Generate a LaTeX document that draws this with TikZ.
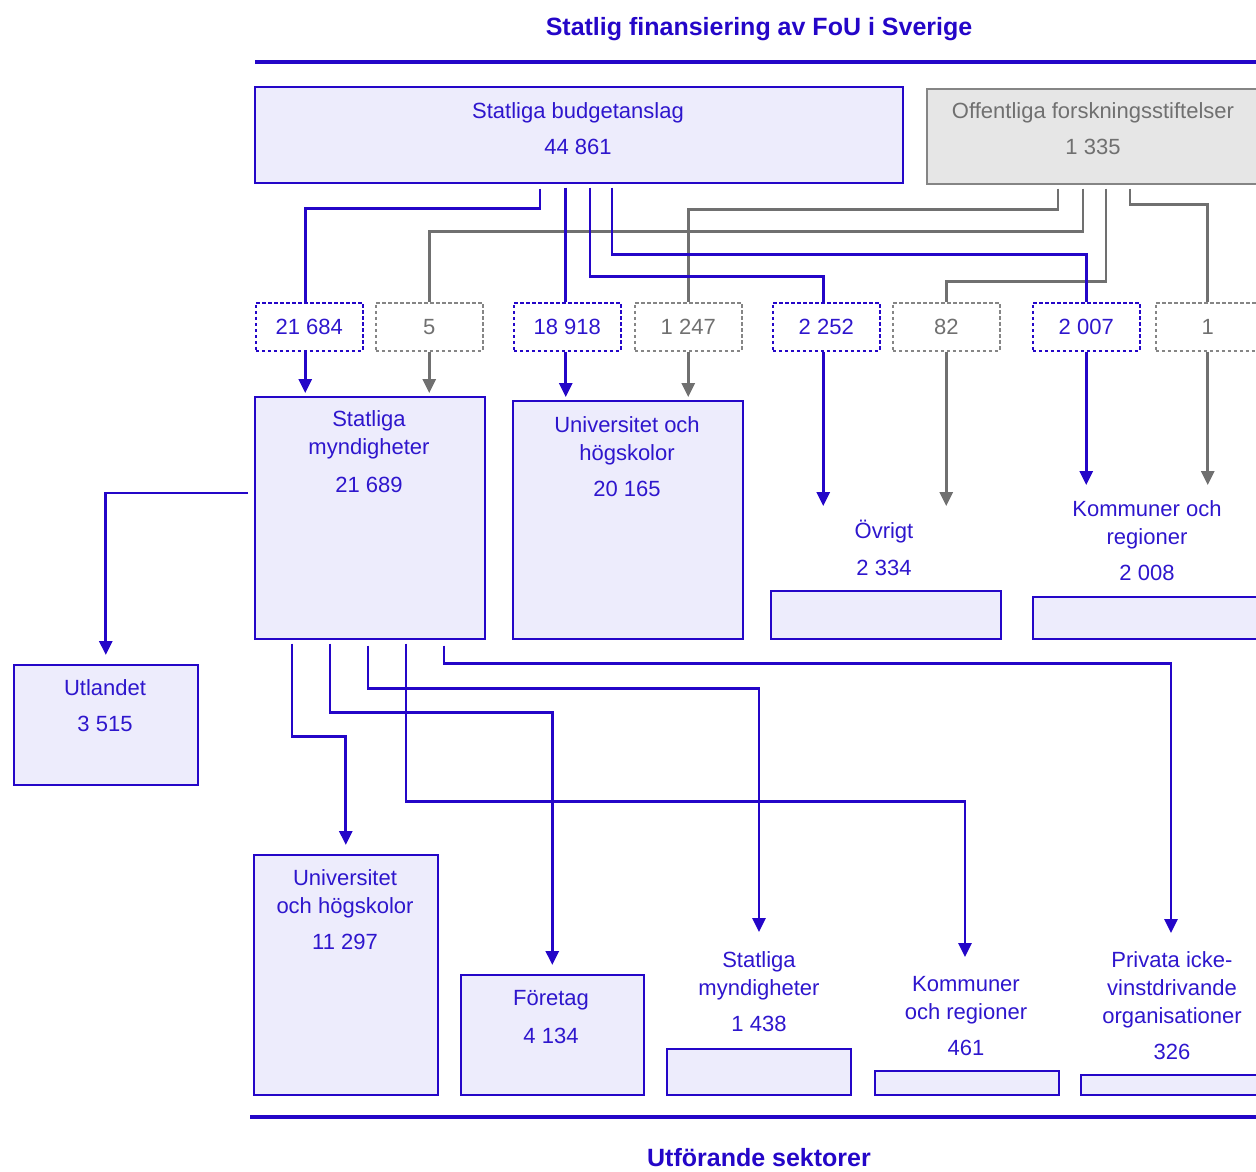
\documentclass[tikz,border=0pt]{standalone}
\usepackage{fontspec}
\setmainfont{Liberation Sans}
\usetikzlibrary{arrows.meta,calc}
\definecolor{blu}{RGB}{36,6,200}
\definecolor{blutxt}{RGB}{46,22,205}
\definecolor{lav}{RGB}{237,236,252}
\definecolor{gfill}{RGB}{230,230,230}
\definecolor{gline}{RGB}{112,112,112}
\definecolor{gtxt}{RGB}{112,112,112}
\newcommand\lbfont{\fontsize{22}{26}\selectfont}
\newcommand\ttlfont{\fontsize{25}{30}\selectfont\bfseries}
\begin{document}
\begin{tikzpicture}[x=1pt,y=-1pt,
 bbox/.style={draw=blu, fill=lav, line width=1.6pt, anchor=north west, inner sep=0pt},
 gbox/.style={draw=gline!85, fill=gfill, line width=1.6pt, anchor=north west, inner sep=0pt},
 dbox/.style={draw=blu, dash pattern=on 3.5pt off 2.5pt, line width=1.5pt, anchor=north west, minimum width=107pt, minimum height=48pt, inner sep=0pt, text=blutxt, font=\lbfont, text height=15.75pt, text depth=0pt},
 dgbox/.style={dbox, draw=gline!85, text=gtxt},
 txt/.style={inner sep=0pt, text height=15.75pt, text depth=0pt, font=\lbfont, text=blutxt},
 gtx/.style={txt, text=gtxt},
 ttl/.style={inner sep=0pt, text height=18pt, text depth=0pt, font=\ttlfont, text=blu},
 bl/.style={draw=blu, line width=2.9pt},
 gl/.style={draw=gline, line width=2.9pt},
 bla/.style={bl, -{Triangle[length=14pt,width=13pt]}},
 gla/.style={gl, -{Triangle[length=14pt,width=13pt]}},
 rule/.style={draw=blu, line width=3.2pt},
]
\useasboundingbox (0,0) rectangle (1256,1171);
\clip (0,0) rectangle (1256,1171);

% titles and rules
\node[ttl] (title) at (759,26) {Statlig finansiering av FoU i Sverige};
\node[ttl] (bottitle) at (759,1157) {Utförande sektorer};
\coordinate (rtl) at (255,62);
\coordinate (rtr) at (1262,62);
\draw[rule] (rtl) -- (rtr);
\coordinate (rbl) at (250,1117);
\coordinate (rbr) at (1262,1117);
\draw[rule, line width=3.8pt] (rbl) -- (rbr);

% source boxes
\node[bbox, minimum width=648pt, minimum height=96pt] (budget) at (254,86) {};
\node[gbox, minimum width=340pt, minimum height=95pt] (offf) at (926,88) {};
\node[txt] (budget1) at (578,111) {Statliga budgetanslag};
\node[txt] (budget2) at (578,147) {44 861};
\node[gtx] (offf1) at (1093,111) {Offentliga forskningsstiftelser};
\node[gtx] (offf2) at (1093,147) {1 335};

% dashed amount boxes
\node[dbox] (d1) at (255,302) {21 684};
\node[dgbox] (d2) at (375,302) {5};
\node[dbox] (d3) at (513,302) {18 918};
\node[dgbox] (d4) at (634,302) {1 247};
\node[dbox] (d5) at (772,302) {2 252};
\node[dgbox] (d6) at (892,302) {82};
\node[dbox] (d7) at (1032,302) {2 007};
\node[dgbox, minimum width=104pt] (d8) at (1155,302) {1};

% middle boxes
\node[bbox, minimum width=230pt, minimum height=242pt] (sm) at (254,396) {};
\node[bbox, minimum width=230pt, minimum height=238pt] (uh) at (512,400) {};
\node[bbox, minimum width=230pt, minimum height=48pt] (ov) at (770,590) {};
\node[bbox, minimum width=234pt, minimum height=42pt] (kr) at (1032,596) {};
\node[bbox, minimum width=184pt, minimum height=120pt] (ut) at (13,664) {};

\node[txt] (sm1) at (369,419) {Statliga};
\node[txt] (sm2l) at (369,447) {myndigheter};
\node[txt] (sm3) at (369,485) {21 689};
\node[txt] (uh1) at (627,425) {Universitet och};
\node[txt] (uh2l) at (627,453) {högskolor};
\node[txt] (uh3) at (627,489) {20 165};
\node[txt] (ov1) at (884,531) {Övrigt};
\node[txt] (ov2) at (884,568) {2 334};
\node[txt] (kr1) at (1147,509) {Kommuner och};
\node[txt] (kr2l) at (1147,537) {regioner};
\node[txt] (kr3) at (1147,573) {2 008};
\node[txt] (ut1) at (105,688) {Utlandet};
\node[txt] (ut2) at (105,724) {3 515};

% bottom boxes
\node[bbox, minimum width=184pt, minimum height=240pt] (uhb) at (253,854) {};
\node[bbox, minimum width=183pt, minimum height=120pt] (fo) at (460,974) {};
\node[bbox, minimum width=184pt, minimum height=46pt] (smb) at (666,1048) {};
\node[bbox, minimum width=184pt, minimum height=24pt] (krb) at (874,1070) {};
\node[bbox, minimum width=186pt, minimum height=20pt] (pr) at (1080,1074) {};

\node[txt] (uhb1) at (345,878) {Universitet};
\node[txt] (uhb2) at (345,906) {och högskolor};
\node[txt] (uhb3) at (345,942) {11 297};
\node[txt] (fo1) at (551,998) {Företag};
\node[txt] (fo2) at (551,1036) {4 134};
\node[txt] (smb1) at (759,960) {Statliga};
\node[txt] (smb2) at (759,988) {myndigheter};
\node[txt] (smb3) at (759,1024) {1 438};
\node[txt] (krb1) at (966,984) {Kommuner};
\node[txt] (krb2) at (966,1012) {och regioner};
\node[txt] (krb3) at (966,1048) {461};
\node[txt] (pr1) at (1172,960) {Privata icke-};
\node[txt] (pr2) at (1172,988) {vinstdrivande};
\node[txt] (pr3) at (1172,1016) {organisationer};
\node[txt] (pr4) at (1172,1052) {326};

% free-end coordinates
\coordinate (ovtop) at (880,506);
\coordinate (krtop) at (1147,485);
\coordinate (smbin) at (759,932);
\coordinate (krbin) at (965,957);
\coordinate (prin) at (1171,933);

% gray connectors from Offentliga forskningsstiftelser
\draw[gl] ($(offf.south west)+(132,4)$) -- ++(0,21) -| (d4.north);
\draw[gl] ($(offf.south west)+(157,4)$) -- ++(0,43) -| (d2.north);
\draw[gl] ($(offf.south west)+(180,4)$) -- ++(0,93) -| (d6.north);
\draw[gl] ($(offf.south west)+(204,4)$) -- ++(0,16) -| (d8.north);

% blue connectors from Statliga budgetanslag
\draw[bl] ($(budget.south west)+(286,5)$) -- ++(0,20) -| ([xshift=-4pt]d1.north);
\draw[bl] ([xshift=-1.5pt,yshift=-4pt]d3.north |- budget.south) -- ([xshift=-1.5pt]d3.north);
\draw[bl] ($(budget.south west)+(336,4)$) -- ++(0,89) -| ([xshift=-3pt]d5.north);
\draw[bl] ($(budget.south west)+(358,4)$) -- ++(0,67) -| (d7.north);

% arrows from dashed boxes
\draw[bla, shorten >=3pt] ([xshift=-4pt]d1.south) -- ([xshift=-4pt]d1.south |- sm.north);
\draw[gla, shorten >=3pt] (d2.south) -- (d2.south |- sm.north);
\draw[bla, shorten >=3pt] ([xshift=-1.5pt]d3.south) -- ([xshift=-1.5pt]d3.south |- uh.north);
\draw[gla, shorten >=3pt] (d4.south) -- (d4.south |- uh.north);
\draw[bla] ([xshift=-3pt]d5.south) -- ([xshift=-3pt]d5.south |- ovtop);
\draw[gla] (d6.south) -- (d6.south |- ovtop);
\draw[bla] (d7.south) -- (d7.south |- krtop);
\draw[gla] (d8.south) -- (d8.south |- krtop);

% Statliga myndigheter -> Utlandet
\draw[bla, shorten >=9pt] ($(sm.north west)+(-6,97)$) -| (ut.north);

% Statliga myndigheter -> performing sectors
\draw[bla, shorten >=9pt] ($(sm.south west)+(38,4)$) -- ++(0,93) -| (uhb.north);
\draw[bla, shorten >=9pt] ($(sm.south west)+(76,4)$) -- ++(0,69) -| (fo.north);
\draw[bla] ($(sm.south west)+(114,6)$) -- ++(0,43) -| (smbin);
\draw[bla] ($(sm.south west)+(152,4)$) -- ++(0,158) -| (krbin);
\draw[bla] ($(sm.south west)+(190,6)$) -- ++(0,18) -| (prin);
\end{tikzpicture}
\end{document}
